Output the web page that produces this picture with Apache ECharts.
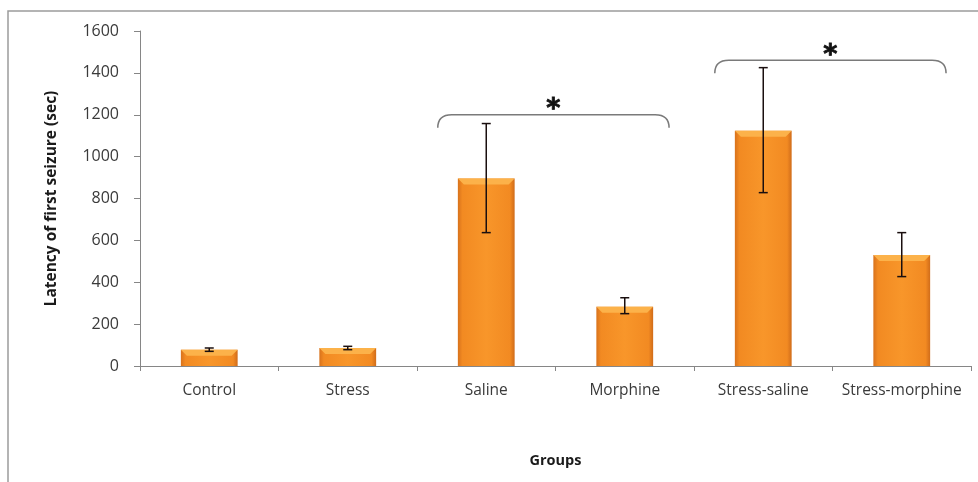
<!DOCTYPE html>
<html>
<head>
<meta charset="utf-8">
<script src="https://cdn.jsdelivr.net/npm/echarts@6/dist/echarts.min.js"></script>
<style>
html,body{margin:0;padding:0;background:#fff;}
#chart{width:978px;height:482px;}
</style>
</head>
<body>
<div id="chart"></div>
<script>
// ---- data ----
var categories = ['Control', 'Stress', 'Saline', 'Morphine', 'Stress-saline', 'Stress-morphine'];
var means = [78, 86, 896, 283, 1124, 530];
var errLow = [70, 78, 637, 250, 828, 427];
var errHigh = [86, 94, 1158, 326, 1425, 637];
var yTicks = [0, 200, 400, 600, 800, 1000, 1200, 1400, 1600];
var brackets = [[2, 3, 1200], [4, 5, 1460]]; // [fromCategory, toCategory, height]
var bracketLabel = '*';
var yTitle = 'Latency of first seizure (sec)';
var xTitle = 'Groups';

var chart = echarts.init(document.getElementById('chart'), null, {renderer: 'canvas'});
var font = 'Open Sans';

var barColor = new echarts.graphic.LinearGradient(0, 0, 1, 0, [
  {offset: 0, color: '#D8721C'},
  {offset: 0.08, color: '#F28A22'},
  {offset: 0.5, color: '#F8962A'},
  {offset: 0.92, color: '#F28A22'},
  {offset: 1, color: '#D06C1A'}
]);

var option = {
  animation: false,
  backgroundColor: '#fff',
  graphic: [{
    type: 'rect', shape: {x: 8, y: 11, width: 1000, height: 520},
    style: {fill: 'none', stroke: '#9c9c9c', lineWidth: 1.5}, silent: true
  }],
  grid: {left: 140, right: 7, top: 31, bottom: 116},
  xAxis: {
    type: 'category', data: categories,
    name: xTitle, nameLocation: 'middle', nameGap: 87,
    nameTextStyle: {fontFamily: font, fontWeight: 'bold', fontSize: 14.5, color: '#1a1a1a'},
    axisLine: {lineStyle: {color: '#868686', width: 1}},
    axisTick: {show: true, length: 5, lineStyle: {color: '#868686'}},
    axisLabel: {interval: 0, fontFamily: font, fontSize: 15.5, color: '#3a3a3a', margin: 17}
  },
  yAxis: {
    type: 'value', min: 0, max: 1600, interval: 200,
    name: yTitle, nameLocation: 'middle', nameGap: 80, nameRotate: 90,
    nameTextStyle: {fontFamily: font, fontWeight: 'bold', fontSize: 15.5, color: '#1a1a1a'},
    axisLine: {show: true, lineStyle: {color: '#868686', width: 1}},
    axisTick: {show: true, length: 6, lineStyle: {color: '#868686'}},
    splitLine: {show: false},
    axisLabel: {fontFamily: font, fontSize: 16, color: '#3a3a3a', margin: 21,
      formatter: function (v) { return yTicks.indexOf(v) >= 0 ? String(v) : ''; }}
  },
  series: [
    {
      type: 'bar', data: means, barWidth: '41%',
      itemStyle: {color: barColor},
      z: 2
    },
    {
      // top bevel highlight on each bar
      type: 'custom', z: 3,
      data: means.map(function (v, i) { return [i, v]; }),
      renderItem: function (params, api) {
        var p = api.coord([api.value(0), api.value(1)]);
        var w = api.size([1, 0])[0] * 0.41;
        var x0 = p[0] - w / 2, x1 = p[0] + w / 2, y = p[1], h = 6;
        return {
          type: 'polygon',
          shape: {points: [[x0, y], [x1, y], [x1 - h, y + h], [x0 + h, y + h]]},
          style: {fill: '#FCB24A'}
        };
      }
    },
    {
      type: 'custom', z: 5,
      data: means.map(function (v, i) { return [i, errLow[i], errHigh[i]]; }),
      renderItem: function (params, api) {
        var lo = api.coord([api.value(0), api.value(1)]);
        var hi = api.coord([api.value(0), api.value(2)]);
        var c = 4.5;
        var st = {stroke: '#1a0f0f', lineWidth: 1.5};
        return {type: 'group', children: [
          {type: 'line', shape: {x1: lo[0], y1: lo[1], x2: hi[0], y2: hi[1]}, style: st},
          {type: 'line', shape: {x1: lo[0] - c, y1: lo[1], x2: lo[0] + c, y2: lo[1]}, style: st},
          {type: 'line', shape: {x1: hi[0] - c, y1: hi[1], x2: hi[0] + c, y2: hi[1]}, style: st}
        ]};
      }
    },
    {
      type: 'custom', z: 6,
      data: brackets,
      renderItem: function (params, api) {
        var band = api.size([1, 0])[0];
        var a = api.coord([api.value(0), api.value(2)]);
        var b = api.coord([api.value(1), api.value(2)]);
        var xL = a[0] - band * 0.35, xR = b[0] + band * 0.32, y = a[1];
        var d = 13, r = 14;
        var path = 'M' + xL + ' ' + (y + d) +
          ' Q' + xL + ' ' + y + ' ' + (xL + r) + ' ' + y +
          ' L' + (xR - r) + ' ' + y +
          ' Q' + xR + ' ' + y + ' ' + xR + ' ' + (y + d);
        return {type: 'group', children: [
          {type: 'path', shape: {pathData: path}, style: {fill: 'none', stroke: '#7a7a7a', lineWidth: 1.5}},
          {type: 'text', x: (xL + xR) / 2, y: y + 9,
            style: {text: bracketLabel, fontFamily: 'DejaVu Sans', fontWeight: 'bold', fontSize: 27,
              fill: '#111', align: 'center', verticalAlign: 'bottom', stroke: '#111', lineWidth: 0.8}}
        ]};
      }
    }
  ]
};
chart.setOption(option);
</script>
</body>
</html>
